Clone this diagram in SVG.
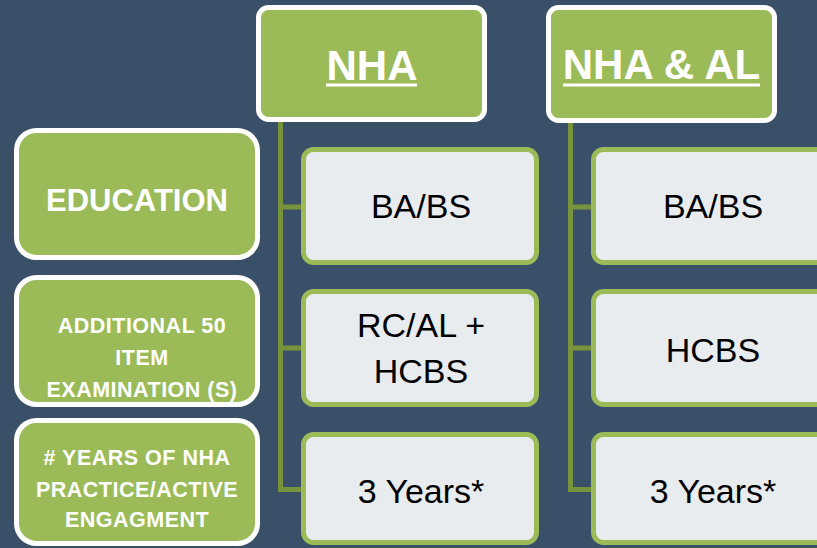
<svg xmlns="http://www.w3.org/2000/svg" width="817" height="548" viewBox="0 0 817 548">
  <style>
    .lbl { fill: #9BBB59; stroke: #FFFFFF; stroke-width: 5; }
    .hdr { fill: #9BBB59; stroke: #FFFFFF; stroke-width: 5; }
    .val { fill: #E9ECEF; stroke: #9BBB59; stroke-width: 5; }
    .lt { font-family: "Liberation Sans", Arial, sans-serif; font-weight: bold; fill: #FFFFFF; text-anchor: middle; }
    .sm { font-size: 21.5px; letter-spacing: 0.5px; }
    .ht { font-family: "Liberation Sans", Arial, sans-serif; font-weight: bold; fill: #FFFFFF; text-anchor: middle; font-size: 42px; }
    .vt { font-family: "Liberation Sans", Arial, sans-serif; fill: #000000; text-anchor: middle; font-size: 34px; }
    .ul { stroke: #FFFFFF; stroke-width: 3; }
    .con { stroke: #77933C; stroke-width: 5; fill: none; }
  </style>
  <rect x="0" y="0" width="817" height="548" fill="#3A5068"/>

  <g id="connectors">
    <path class="con" d="M280.5,122 V489.5 H303 M280.5,207 H303 M280.5,348 H303"/>
    <path class="con" d="M570.5,122 V489.5 H593 M570.5,207 H593 M570.5,348 H593"/>
  </g>

  <g id="label-education">
    <rect class="lbl" x="16.5" y="130.5" width="241" height="127" rx="20"/>
    <text class="lt" x="137" y="211" font-size="31">EDUCATION</text>
  </g>
  <g id="label-exam">
    <rect class="lbl" x="16.5" y="277.5" width="241" height="127" rx="20"/>
    <text class="lt sm" x="142" y="333">ADDITIONAL 50</text>
    <text class="lt sm" x="142" y="365">ITEM</text>
    <text class="lt sm" x="142" y="397">EXAMINATION (S)</text>
  </g>
  <g id="label-years">
    <rect class="lbl" x="16.5" y="420.5" width="241" height="123" rx="20"/>
    <text class="lt sm" x="137" y="465"># YEARS OF NHA</text>
    <text class="lt sm" x="137" y="497">PRACTICE/ACTIVE</text>
    <text class="lt sm" x="137" y="527">ENGAGMENT</text>
  </g>

  <g id="header-nha">
    <rect class="hdr" x="258.5" y="7.5" width="226" height="112" rx="10"/>
    <text class="ht" x="372" y="80">NHA</text>
    <line class="ul" x1="326" y1="85" x2="417" y2="85"/>
  </g>
  <g id="header-nha-al">
    <rect class="hdr" x="548.5" y="7.5" width="226" height="113" rx="10"/>
    <text class="ht" x="661.5" y="79">NHA &amp; AL</text>
    <line class="ul" x1="563" y1="85" x2="760" y2="85"/>
  </g>

  <g id="nha-education">
    <rect class="val" x="303.5" y="149.5" width="233" height="113" rx="10"/>
    <text class="vt" x="421" y="218">BA/BS</text>
  </g>
  <g id="nha-exam">
    <rect class="val" x="303.5" y="291.5" width="233" height="113" rx="10"/>
    <text class="vt" x="421" y="337">RC/AL +</text>
    <text class="vt" x="421" y="383">HCBS</text>
  </g>
  <g id="nha-years">
    <rect class="val" x="303.5" y="434.5" width="233" height="108" rx="10"/>
    <text class="vt" x="421" y="503">3 Years*</text>
  </g>

  <g id="nhaal-education">
    <rect class="val" x="593.5" y="149.5" width="233" height="113" rx="10"/>
    <text class="vt" x="713" y="218">BA/BS</text>
  </g>
  <g id="nhaal-exam">
    <rect class="val" x="593.5" y="291.5" width="233" height="113" rx="10"/>
    <text class="vt" x="713" y="362">HCBS</text>
  </g>
  <g id="nhaal-years">
    <rect class="val" x="593.5" y="434.5" width="233" height="108" rx="10"/>
    <text class="vt" x="713" y="503">3 Years*</text>
  </g>
</svg>
